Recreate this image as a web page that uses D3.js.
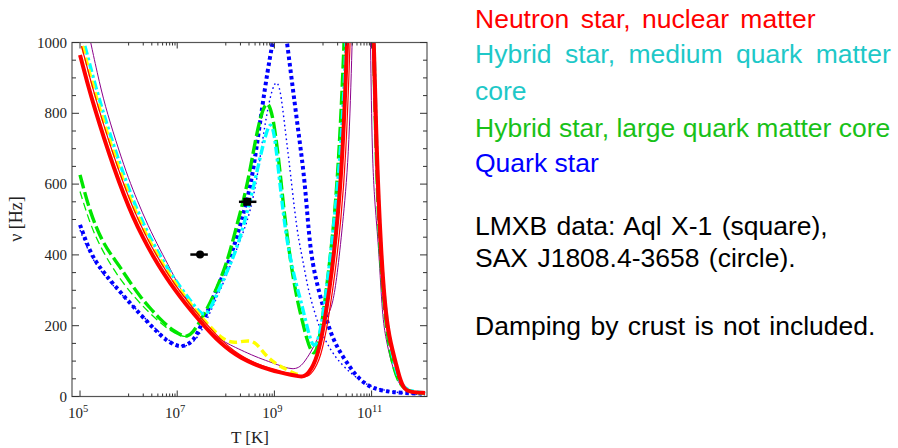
<!DOCTYPE html>
<html>
<head>
<meta charset="utf-8">
<script src="https://cdn.jsdelivr.net/npm/d3@7"></script>
<style>
  body { margin: 0; background: #fff; }
  svg { display: block; }
</style>
</head>
<body>
<svg id="chart" width="898" height="448"></svg>
<script>
// curves: [log10 T, nu in Hz], null breaks the line where it leaves the top
const nsThick = [[5.0,965],[5.15,886],[5.31,810],[5.5,727],[5.7,645],[5.9,570],[6.09,507],[6.3,447],[6.5,397],[6.7,352],[6.86,319],[7.06,282],[7.27,245],[7.47,213],[7.68,181],[7.89,151],[8.1,128],[8.3,110],[8.6,90],[8.9,76],[9.12,68],[9.35,61],[9.5,57],[9.58,56],[9.65,60],[9.72,70],[9.8,88],[9.88,115],[9.96,160],[10.05,226],[10.19,358],[10.3,500],[10.4,669],[10.5,1000],[10.55,1250],null,[10.98,1250],[11.05,1000],[11.1,700],[11.19,414],[11.29,226],[11.4,145],[11.49,100],[11.58,50],[11.67,20],[11.8,12],[12.1,10]];
const nsThin = [[5.03,990],[5.08,965],[5.23,886],[5.39,810],[5.58,727],[5.78,645],[5.98,570],[6.17,507],[6.38,447],[6.58,397],[6.78,352],[6.94,319],[7.14,282],[7.35,245],[7.55,213],[7.76,181],[7.97,151],[8.18,128],[8.38,110],[8.68,90],[8.98,76],[9.2,68],[9.43,61],[9.57,57],[9.65,56],[9.72,60],[9.79,70],[9.87,88],[9.95,115],[10.03,160],[10.12,226],[10.26,358],[10.37,500],[10.47,669],[10.56,1000],[10.61,1250],null,[10.95,1250],[11.02,1000],[11.07,700],[11.16,414],[11.26,226],[11.37,145],[11.46,100],[11.55,50],[11.64,22],[11.8,13],[12.1,11]];
const nsYellow = [[5.05,990],[5.1,965],[5.25,886],[5.41,810],[5.6,727],[5.8,645],[6.0,570],[6.19,507],[6.4,447],[6.6,397],[6.8,352],[6.96,319],[7.16,282],[7.37,245],[7.57,213],[7.74,188],[7.9,167],[8.05,155],[8.2,152],[8.35,156],[8.5,158],[8.6,152],[8.7,138],[8.8,120],[8.92,104],[9.06,90],[9.25,76],[9.4,66],[9.55,59]];
const hybridMedium = [[5.1,990],[5.15,965],[5.3,886],[5.46,810],[5.65,727],[5.85,645],[6.05,570],[6.24,507],[6.45,447],[6.65,397],[6.85,352],[7.01,319],[7.21,282],[7.36,255],[7.47,238],[7.55,231],[7.63,236],[7.72,260],[7.82,290],[8.0,345],[8.15,392],[8.3,450],[8.47,537],[8.6,610],[8.71,678],[8.82,740],[8.92,778],[9.0,745],[9.09,631],[9.18,520],[9.26,440],[9.33,390],[9.44,320],[9.54,273],[9.64,215],[9.74,160],[9.81,141],[9.88,150],[9.97,200],[10.1,330],[10.25,520],[10.38,720],[10.48,1000],[10.53,1250],null,[11.0,1250],[11.05,1000],[11.12,600],[11.22,330],[11.35,170],[11.48,80],[11.6,35],[11.75,15],[12.1,10]];
const hybridLarge = [[5.0,626],[5.21,518],[5.45,440],[5.65,398],[5.82,367],[6.05,318],[6.24,282],[6.44,250],[6.65,218],[6.82,197],[6.95,184],[7.08,173],[7.2,168],[7.32,180],[7.47,212],[7.68,264],[7.89,330],[8.06,395],[8.2,470],[8.37,556],[8.5,640],[8.61,725],[8.72,795],[8.84,835],[8.92,815],[8.99,772],[9.06,700],[9.12,631],[9.2,520],[9.3,414],[9.38,340],[9.47,273],[9.57,215],[9.67,160],[9.75,130],[9.8,122],[9.86,125],[9.95,180],[10.05,280],[10.2,450],[10.32,650],[10.44,1000],[10.49,1250],null,[11.0,1250],[11.04,1000],[11.1,620],[11.2,340],[11.32,170],[11.45,80],[11.58,33],[11.75,14],[12.1,8]];
const hybridLargeThin = [[5.0,579],[5.2,490],[5.4,428],[5.65,367],[5.9,318],[6.15,276],[6.4,240],[6.65,208],[6.85,187],[7.0,176],[7.15,168],[7.25,172]];
const quarkThick = [[5.0,485],[5.21,405],[5.42,362],[5.62,328],[5.83,295],[6.03,264],[6.24,232],[6.44,203],[6.62,178],[6.79,157],[6.95,146],[7.06,141],[7.2,145],[7.34,160],[7.44,185],[7.54,217],[7.65,248],[7.75,282],[7.9,330],[8.02,367],[8.15,414],[8.33,500],[8.51,593],[8.63,700],[8.75,819],[8.86,920],[8.95,989],[9.0,1030],[9.1,1080],[9.2,1060],[9.26,1000],[9.37,880],[9.47,772],[9.56,680],[9.64,584],[9.73,420],[9.85,330],[10.02,245],[10.12,195],[10.22,160],[10.35,125],[10.5,94],[10.65,64],[10.84,38],[11.05,22],[11.32,14],[11.6,10],[12.1,8]];
const quarkThin = [[5.0,470],[5.2,400],[5.45,350],[5.7,310],[5.95,275],[6.2,240],[6.45,205],[6.7,172],[6.9,152],[7.05,143],[7.2,142],[7.35,155],[7.5,185],[7.61,217],[7.75,260],[7.95,320],[8.15,390],[8.35,460],[8.5,520],[8.65,620],[8.75,720],[8.87,820],[8.96,870],[9.04,894],[9.12,870],[9.2,780],[9.27,700],[9.33,631],[9.42,520],[9.5,440],[9.58,390],[9.68,310],[9.81,245],[9.95,185],[10.15,132],[10.35,95],[10.57,66],[10.78,44],[10.98,28],[11.3,16],[11.7,8],[12.1,5]];
const purpleLine = [[5.22,1000],[5.4,885],[5.56,800],[5.8,695],[6.0,615],[6.17,556],[6.4,482],[6.65,414],[6.86,360],[7.06,305],[7.3,250],[7.5,210],[7.7,180],[7.9,160],[8.1,145],[8.3,132],[8.6,113],[8.9,98],[9.06,90],[9.2,83],[9.37,77],[9.5,81],[9.6,94],[9.75,125],[9.88,160],[10.0,200],[10.12,235],[10.2,262],[10.29,339],[10.4,480],[10.53,669],[10.6,1000],[10.65,1250],null,[10.94,1250],[10.98,1000],[11.01,669],[11.08,520],[11.15,414],[11.22,226],[11.3,160],[11.39,104],[11.5,55],[11.6,28],[11.75,14],[12.1,8]];

// LMXB data points: [log10 T, nu, log10 T low, log10 T high]
const aqlX1 = [8.44, 550, 8.27, 8.63];
const saxJ1808 = [7.47, 401, 7.27, 7.63];

const xMajorExp = [5, 7, 9, 11];
const xMinorExp = [6, 8, 10];
const yLabels = [0, 200, 400, 600, 800, 1000];

const legendLines = [
    { text: "Neutron star, nuclear matter", color: "#ff0000", y: 28, ws: 4 },
    { text: "Hybrid star, medium quark matter", color: "#1ec8c8", y: 63, ws: 6 },
    { text: "core", color: "#1ec8c8", y: 100, ws: 0 },
    { text: "Hybrid star, large quark matter core", color: "#19c119", y: 137, ws: 0 },
    { text: "Quark star", color: "#0000ff", y: 172, ws: 0 },
    { text: "LMXB data: Aql X-1 (square),", color: "#000", y: 235, ws: 2 },
    { text: "SAX J1808.4-3658 (circle).", color: "#000", y: 267, ws: 2 },
    { text: "Damping by crust is not included.", color: "#000", y: 335, ws: 2 }
];

const svg = d3.select("#chart");
const plotLeft = 72, plotRight = 427, plotTop = 42.5, plotBottom = 396.5;

const x = d3.scaleLog().domain([Math.pow(10, 4.835), Math.pow(10, 12.14)]).range([plotLeft, plotRight]);
const y = d3.scaleLinear().domain([0, 1000]).range([plotBottom, plotTop]);

svg.append("defs").append("clipPath").attr("id", "plotClip")
    .append("rect")
    .attr("x", plotLeft).attr("y", plotTop)
    .attr("width", plotRight - plotLeft).attr("height", plotBottom - plotTop);

const line = d3.line()
    .defined(d => d !== null)
    .x(d => x(Math.pow(10, d[0])))
    .y(d => y(d[1]))
    .curve(d3.curveBasis);

const plot = svg.append("g").attr("clip-path", "url(#plotClip)");

function drawCurve(data, color, width, dash) {
    plot.append("path")
        .datum(data)
        .attr("d", line)
        .attr("fill", "none")
        .attr("stroke", color)
        .attr("stroke-width", width)
        .attr("stroke-dasharray", dash)
        .attr("stroke-linejoin", "round");
}

drawCurve(purpleLine, "#8b008b", 1, null);
drawCurve(quarkThin, "#0000ff", 1.4, "1.6,3");
drawCurve(quarkThick, "#0000ff", 4, "3.5,3");
drawCurve(hybridLargeThin, "#00ee00", 1.3, "8,4");
drawCurve(hybridLarge, "#00e600", 3.4, "14,4");
drawCurve(hybridMedium, "#00ffff", 3.4, "9,3,3,3");
drawCurve(nsYellow, "#ffff00", 3.4, "8,4");
drawCurve(nsThin, "#ff0000", 1.2, null);
drawCurve(nsThick, "#ff0000", 4, null);

// data points with horizontal error bars
function drawPoint(p, shape) {
    const g = svg.append("g");
    g.append("line")
        .attr("x1", x(Math.pow(10, p[2]))).attr("x2", x(Math.pow(10, p[3])))
        .attr("y1", y(p[1])).attr("y2", y(p[1]))
        .attr("stroke", "#000").attr("stroke-width", 2.5);
    if (shape === "circle") {
        g.append("circle")
            .attr("cx", x(Math.pow(10, p[0]))).attr("cy", y(p[1]))
            .attr("r", 4).attr("fill", "#000");
    } else {
        g.append("rect")
            .attr("x", x(Math.pow(10, p[0])) - 4).attr("y", y(p[1]) - 4)
            .attr("width", 8).attr("height", 8).attr("fill", "#000");
    }
}
drawPoint(aqlX1, "square");
drawPoint(saxJ1808, "circle");

// frame
svg.append("rect")
    .attr("x", plotLeft).attr("y", plotTop)
    .attr("width", plotRight - plotLeft).attr("height", plotBottom - plotTop)
    .attr("fill", "none").attr("stroke", "#555").attr("stroke-width", 1.2);

const ticks = svg.append("g").attr("stroke", "#333").attr("stroke-width", 1);

// y ticks every 50, labelled every 200
d3.range(0, 1001, 50).forEach(v => {
    const len = v % 200 === 0 ? 7 : 4;
    ticks.append("line").attr("x1", plotLeft).attr("x2", plotLeft + len).attr("y1", y(v)).attr("y2", y(v));
    ticks.append("line").attr("x1", plotRight).attr("x2", plotRight - len).attr("y1", y(v)).attr("y2", y(v));
});

// x ticks: majors every two decades, linear minors in the decade between
xMajorExp.forEach(e => {
    const px = x(Math.pow(10, e));
    ticks.append("line").attr("x1", px).attr("x2", px).attr("y1", plotBottom).attr("y2", plotBottom - 6);
    ticks.append("line").attr("x1", px).attr("x2", px).attr("y1", plotTop).attr("y2", plotTop + 6);
});
xMinorExp.forEach(e => {
    d3.range(1, 10).forEach(k => {
        const px = x(k * Math.pow(10, e));
        ticks.append("line").attr("x1", px).attr("x2", px).attr("y1", plotBottom).attr("y2", plotBottom - 3);
        ticks.append("line").attr("x1", px).attr("x2", px).attr("y1", plotTop).attr("y2", plotTop + 3);
    });
});

const serif = "'Liberation Serif', 'Times New Roman', serif";

svg.append("g").selectAll("text")
    .data(yLabels)
    .enter()
    .append("text")
    .attr("x", plotLeft - 5)
    .attr("y", d => y(d) + 5)
    .attr("text-anchor", "end")
    .style("font-family", serif)
    .style("font-size", "15px")
    .style("fill", "#222")
    .text(d => d);

const xl = svg.append("g").selectAll("text")
    .data(xMajorExp)
    .enter()
    .append("text")
    .attr("x", d => x(Math.pow(10, d)) - 2)
    .attr("y", 418)
    .attr("text-anchor", "middle")
    .style("font-family", serif)
    .style("font-size", "15px")
    .style("fill", "#222");
xl.append("tspan").text("10");
xl.append("tspan").attr("dy", -6).style("font-size", "10.5px").text(d => d);

svg.append("text")
    .attr("x", 250).attr("y", 443)
    .attr("text-anchor", "middle")
    .style("font-family", serif)
    .style("font-size", "17px")
    .style("fill", "#222")
    .text("T [K]");

svg.append("text")
    .attr("transform", "translate(22, 219) rotate(-90)")
    .attr("text-anchor", "middle")
    .style("font-family", serif)
    .style("font-size", "18px")
    .style("fill", "#222")
    .text("ν [Hz]");

// legend text on the right
svg.append("g").selectAll("text")
    .data(legendLines)
    .enter()
    .append("text")
    .attr("x", 475)
    .attr("y", d => d.y)
    .attr("word-spacing", d => d.ws)
    .style("font-family", "'Liberation Sans', Arial, sans-serif")
    .style("font-size", "26.5px")
    .style("fill", d => d.color)
    .text(d => d.text);
</script>
</body>
</html>
